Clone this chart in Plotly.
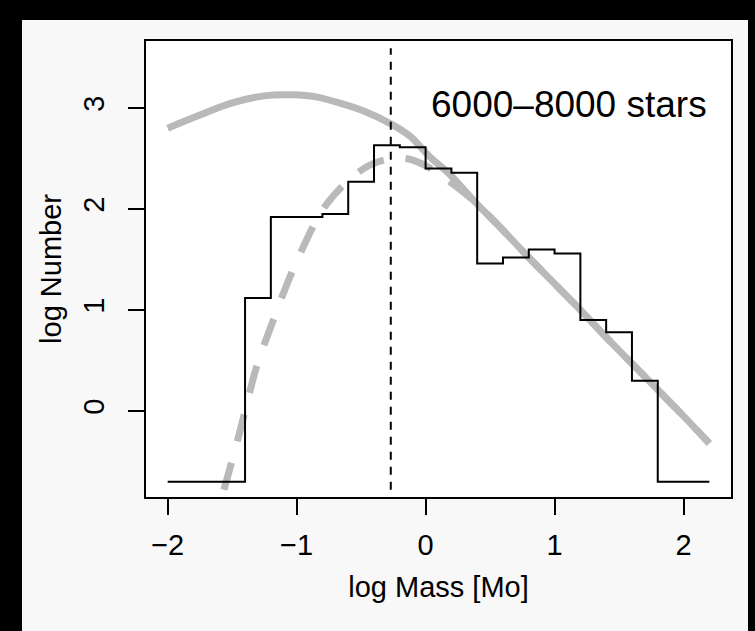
import plotly.graph_objects as go

# ---- data ----
bin_edges = [-2.0, -1.8, -1.6, -1.4, -1.2, -1.0, -0.8, -0.6, -0.4, -0.2, 0.0,
             0.2, 0.4, 0.6, 0.8, 1.0, 1.2, 1.4, 1.6, 1.8, 2.0, 2.2]
log_counts = [-0.7, -0.7, -0.7, 1.12, 1.92, 1.92, 1.95, 2.27, 2.63, 2.61, 2.40,
              2.36, 1.46, 1.52, 1.60, 1.56, 0.90, 0.78, 0.30, -0.7, -0.7]

imf_x = [-2.0, -1.75, -1.5, -1.25, -1.03, -0.85, -0.67, -0.48, -0.28, -0.12,
         0.03, 0.19, 0.39, 0.6, 0.8, 1.0, 1.2, 1.4, 1.6, 1.8, 2.0, 2.2]
imf_y = [2.80, 2.93, 3.05, 3.12, 3.13, 3.11, 3.05, 2.97, 2.85, 2.72,
         2.52, 2.34, 2.06, 1.79, 1.52, 1.26, 1.00, 0.73, 0.47, 0.21, -0.05, -0.32]

obs_x = [-1.68, -1.58, -1.45, -1.31, -1.21, -0.99, -0.76, -0.48, -0.30, -0.15,
         0.0, 0.13, 0.25, 0.39, 0.6, 0.8, 1.0, 1.2, 1.4, 1.6, 1.8, 2.0, 2.2]
obs_y = [-1.25, -0.85, -0.25, 0.44, 0.80, 1.51, 2.06, 2.40, 2.49, 2.50,
         2.43, 2.32, 2.21, 2.06, 1.79, 1.52, 1.26, 1.00, 0.73, 0.47, 0.21, -0.05, -0.32]

peak_x = [-0.27, -0.27]
peak_y = [-0.78, 3.59]

x_ticks = [-2, -1, 0, 1, 2]
x_ticktext = ["\u22122", "\u22121", "0", "1", "2"]
y_ticks = [0, 1, 2, 3]
y_ticktext = ["0", "1", "2", "3"]

label_text = "6000\u20138000 stars"

# ---- figure ----
FONT = "Liberation Sans, Arial, Helvetica, sans-serif"
GRAY = "#b9b9b9"

fig = go.Figure()

fig.add_trace(go.Scatter(x=imf_x, y=imf_y, mode="lines", line_shape="spline",
                         line=dict(color=GRAY, width=7), hoverinfo="skip",
                         showlegend=False))
fig.add_trace(go.Scatter(x=obs_x, y=obs_y, mode="lines", line_shape="spline",
                         line=dict(color=GRAY, width=7, dash="28px,22px"),
                         hoverinfo="skip", showlegend=False))
fig.add_trace(go.Scatter(x=bin_edges, y=log_counts + [log_counts[-1]], mode="lines",
                         line_shape="hv", line=dict(color="black", width=2),
                         showlegend=False))
fig.add_trace(go.Scatter(x=peak_x, y=peak_y, mode="lines",
                         line=dict(color="black", width=2, dash="8px,7px"),
                         showlegend=False))

fig.add_annotation(x=0.03, y=3.03, xref="x", yref="y", text=label_text,
                   showarrow=False, xanchor="left", yanchor="middle",
                   font=dict(family=FONT, size=37, color="black"))

W, H = 755, 631
L, R, T, B = 146, 24, 41, 134
pw, ph = W - L - R, H - T - B

def px_x(p):
    return (p - L) / pw

def px_y(p):
    return (H - B - p) / ph

# black frame bands
for x0, x1, y0, y1 in [(0, W, 0, 20), (0, 22, 0, H), (748, W, 0, H)]:
    fig.add_shape(type="rect", xref="paper", yref="paper",
                  x0=px_x(x0), x1=px_x(x1), y0=px_y(y1), y1=px_y(y0),
                  fillcolor="black", line=dict(width=0), layer="above")

axis_common = dict(showline=True, mirror=True, linecolor="black", linewidth=2,
                   ticks="outside", ticklen=16, tickwidth=2, tickcolor="black",
                   showgrid=False, zeroline=False,
                   tickfont=dict(family=FONT, size=29, color="black"),
                   title_font=dict(family=FONT, size=29, color="black"))

fig.update_layout(
    width=W, height=H,
    margin=dict(l=L, r=R, t=T, b=B, pad=0),
    paper_bgcolor="#f8f8f8",
    plot_bgcolor="white",
    xaxis=dict(range=[-2.168, 2.368], tickvals=x_ticks, ticktext=x_ticktext,
               title=dict(text="log Mass [Mo]", standoff=17),
               ticklabelstandoff=5, **axis_common),
    yaxis=dict(range=[-0.851, 3.663], tickvals=y_ticks, ticktext=y_ticktext,
               tickangle=-90, title=dict(text="log Number", standoff=8),
               ticklabelstandoff=12, **axis_common),
)

fig.write_html("out.html", config={"displayModeBar": False},
               post_script="document.body.style.margin='0';document.body.style.overflow='hidden';")
